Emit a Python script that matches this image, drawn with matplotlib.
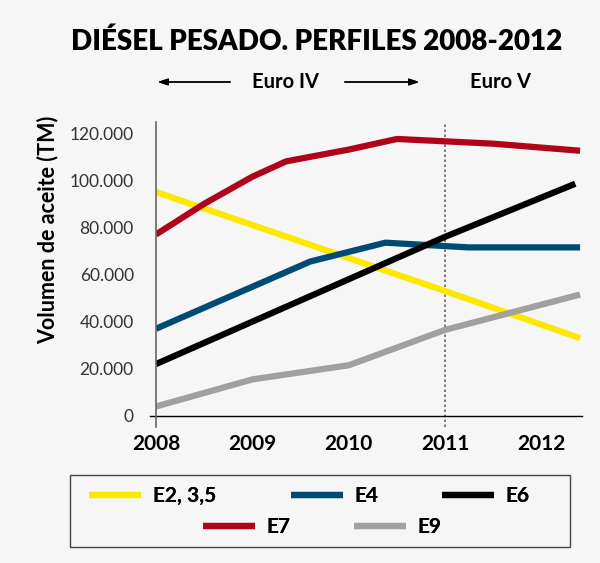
import matplotlib
matplotlib.use("Agg")
import matplotlib.pyplot as plt
from matplotlib.patches import Rectangle

plt.rcParams['font.family'] = ['Lato', 'DejaVu Sans']

# data (x in years, y in TM)
years = [2008, 2009, 2010, 2011, 2012]
e2_x = [2008, 2009, 2010, 2011, 2012.4]
e2_y = [95000, 81000, 67000, 53000, 33000]
e4_x = [2008, 2009.6, 2010.38, 2011.24, 2012.4]
e4_y = [37000, 65500, 73500, 71500, 71500]
e6_x = [2008, 2009, 2010, 2011, 2012.35]
e6_y = [22000, 40000, 58000, 76000, 98500]
e7_x = [2008, 2008.5, 2009, 2009.35, 2010, 2010.5, 2011, 2011.5, 2012.4]
e7_y = [77000, 90000, 101500, 108000, 113000, 117500, 116500, 115500, 112500]
e9_x = [2008, 2009, 2010, 2011, 2012.4]
e9_y = [4000, 15500, 21500, 36500, 51500]
yticks = [0, 20000, 40000, 60000, 80000, 100000, 120000]
labels = ['E2, 3,5', 'E4', 'E6', 'E7', 'E9']
euro_split = 2011

bg = '#f5f6f5'
W, H = 600, 563
fig = plt.figure(figsize=(6, 5.63), dpi=100, facecolor=bg)
ax = fig.add_axes([156 / W, 1 - 427 / H, 426 / W, 305 / H])
ax.set_facecolor(bg)

lw = 4.5
style = dict(lw=lw, solid_capstyle='butt', solid_joinstyle='round')
l2, = ax.plot(e2_x, e2_y, color='#ffe800', **style)
l4, = ax.plot(e4_x, e4_y, color='#004b73', **style)
l6, = ax.plot(e6_x, e6_y, color='#000000', **style)
l7, = ax.plot(e7_x, e7_y, color='#b0041b', **style)
l9, = ax.plot(e9_x, e9_y, color='#a0a0a0', **style)

ax.axvline(euro_split, color='#666666', lw=1.2, ls=(0, (1.5, 1.5)), zorder=0)
ax.axhline(0, xmin=-0.015, xmax=1.0, color='black', lw=1, clip_on=False, zorder=1)

ax.set_xlim(2008, 2012.42)
ax.set_ylim(-4700, 124700)
for s in ['top', 'right', 'bottom']:
    ax.spines[s].set_visible(False)
ax.spines['left'].set_color('#666666')
ax.spines['left'].set_linewidth(1.2)

ax.set_xticks(years)
ax.set_xticklabels([str(y) for y in years], fontsize=15, fontweight='bold')
ax.set_yticks(yticks)
ax.set_yticklabels([f"{v:,}".replace(',', '.') for v in yticks], fontsize=12.5, color='#333333')
ax.tick_params(axis='x', length=0, pad=5)
ax.tick_params(axis='y', length=0, pad=16)

fig.text(48 / W, 1 - 230 / H, 'Volumen de aceite (TM)', rotation=90, ha='center', va='center',
         fontsize=15.5, fontweight='bold')

fig.text(317 / W, 1 - 42 / H, 'DIÉSEL PESADO. PERFILES 2008-2012', ha='center', va='center',
         fontsize=20, fontweight='heavy')
fig.text(286 / W, 1 - 82 / H, 'Euro IV', ha='center', va='center', fontsize=14.5, fontweight='bold')
fig.text(501 / W, 1 - 82 / H, 'Euro V', ha='center', va='center', fontsize=14.5, fontweight='bold')
arrow = dict(arrowstyle='-|>,head_length=0.6,head_width=0.2', color='black', lw=1)
fig.add_artist(plt.annotate('', xy=(155 / W, 1 - 82 / H), xytext=(233 / W, 1 - 82 / H),
                            xycoords='figure fraction', arrowprops=arrow))
fig.add_artist(plt.annotate('', xy=(422 / W, 1 - 82 / H), xytext=(342 / W, 1 - 82 / H),
                            xycoords='figure fraction', arrowprops=arrow))

# legend box, one entry per slot so the rows sit like the original
fig.add_artist(Rectangle((70 / W, 1 - 547 / H), 500 / W, 72 / H, transform=fig.transFigure,
                         facecolor=bg, edgecolor='#444444', lw=1))
slots = [(89, 496), (291, 496), (442, 496), (203, 527), (354, 527)]
for line, lab, (px, py) in zip([l2, l4, l6, l7, l9], labels, slots):
    leg = fig.legend([line], [lab], frameon=False, loc='center left',
                     bbox_to_anchor=(px / W, 1 - py / H), borderpad=0, borderaxespad=0,
                     prop={'size': 15, 'weight': 'bold'}, handlelength=2.5, handletextpad=0.55)
    fig.add_artist(leg)

fig.savefig('out.png', dpi=100, facecolor=bg)
